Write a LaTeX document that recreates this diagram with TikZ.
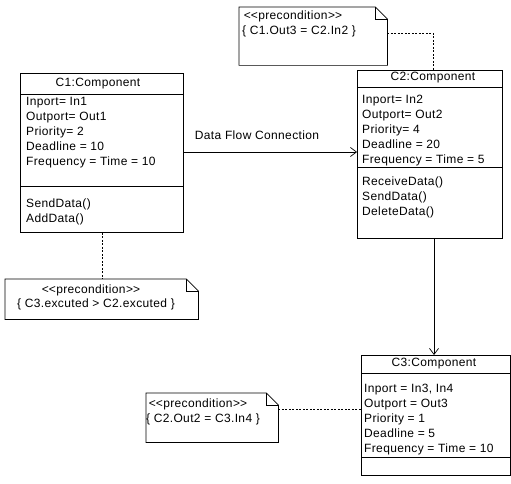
\documentclass[tikz,border=0pt]{standalone}
\usepackage{fontspec}
\setmainfont{Liberation Sans}[LetterSpace=3]
\usetikzlibrary{arrows.meta}
\newcommand{\ltlt}{\textless\kern0pt\textless}
\newcommand{\gtgt}{\textgreater\kern0pt\textgreater}
\begin{document}
\begin{tikzpicture}[x=1pt,y=-1pt,
  every node/.style={font=\fontsize{12}{15}\selectfont, inner sep=0pt},
  box/.style={draw, line width=0.8pt, anchor=north west},
  txt/.style={anchor=north west, align=left},
  ttl/.style={anchor=center},
  notebox/.style={anchor=north west},
  conn/.style={line width=0.6pt, dash pattern=on 2pt off 1.5pt},
  flow/.style={line width=0.7pt, -{Straight Barb[length=6pt,width=9pt]}},
  sep/.style={line width=0.8pt}
]
\useasboundingbox (0,0) rectangle (511,484);

% C1
\node[box, minimum width=163pt, minimum height=159pt] (c1) at (20,73) {};
\draw[sep] (20,94) -- (183,94);
\draw[sep] (20,186) -- (183,186);
\node[ttl] (c1t) at (98,84) {C1:Component};
\node[txt] (c1attr) at (26,97) {Inport= In1\\Outport= Out1\\Priority= 2\\Deadline = 10\\Frequency = Time = 10};
\node[txt] (c1m) at (26,199) {SendData()\\AddData()};

% C2
\node[box, minimum width=145pt, minimum height=168pt] (c2) at (357,70) {};
\draw[sep] (357,87) -- (502,87);
\draw[sep] (357,167) -- (502,167);
\node[ttl] (c2t) at (433,78) {C2:Component};
\node[txt] (c2attr) at (362,95) {Inport= In2\\Outport= Out2\\Priority= 4\\Deadline = 20\\Frequency = Time = 5};
\node[txt] (c2m) at (362,177) {ReceiveData()\\SendData()\\DeleteData()};

% C3
\node[box, minimum width=149pt, minimum height=120pt] (c3) at (361,355) {};
\draw[sep] (361,373) -- (510,373);
\draw[sep] (361,457) -- (510,457);
\node[ttl] (c3t) at (434,364) {C3:Component};
\node[txt] (c3attr) at (364,384) {Inport = In3, In4\\Outport = Out3\\Priority = 1\\Deadline = 5\\Frequency = Time = 10};

% Notes
\node[notebox, minimum width=148pt, minimum height=58pt] (n1) at (239,7) {};
\node[notebox, minimum width=193pt, minimum height=40pt] (n2) at (5,279) {};
\node[notebox, minimum width=132pt, minimum height=49pt] (n3) at (146,393) {};
\foreach \n in {n1,n2,n3}{
  \draw[line width=0.7pt] (\n.north west) -- ([xshift=-12pt]\n.north east) -- ([yshift=-12pt]\n.north east) -- (\n.south east) -- (\n.south west) -- cycle;
  \draw[line width=0.6pt] ([xshift=-12pt]\n.north east) -- ([xshift=-12pt,yshift=-12pt]\n.north east) -- ([yshift=-12pt]\n.north east);
}
\node[anchor=center] (n1a) at (293,16) {\ltlt precondition\gtgt};
\node[anchor=center] (n1b) at (299,31) {\{ C1.Out3 = C2.In2 \}};
\node[anchor=center] (n2a) at (91,290) {\ltlt precondition\gtgt};
\node[anchor=center] (n2b) at (96,304) {\{ C3.excuted > C2.excuted \}};
\node[anchor=center] (n3a) at (198,404) {\ltlt precondition\gtgt};
\node[anchor=center] (n3b) at (203,419) {\{ C2.Out2 = C3.In4 \}};

% connectors
\coordinate (k1) at (433,33);
\draw[conn] (n1.east |- k1) -- (k1) -- (k1 |- c2.north);
\coordinate (k2) at (102,0);
\draw[conn] (k2 |- c1.south) -- (k2 |- n2.north);
\coordinate (k3) at (0,409);
\draw[conn] (n3.east |- k3) -- (c3.west |- k3);
\coordinate (k4) at (0,152);
\draw[flow] (c1.east |- k4) -- (c2.west |- k4);
\node[anchor=center] (lbl) at (257,135) {Data Flow Connection};
\coordinate (k5) at (434,0);
\draw[flow] (k5 |- c2.south) -- (k5 |- c3.north);
\end{tikzpicture}
\end{document}
